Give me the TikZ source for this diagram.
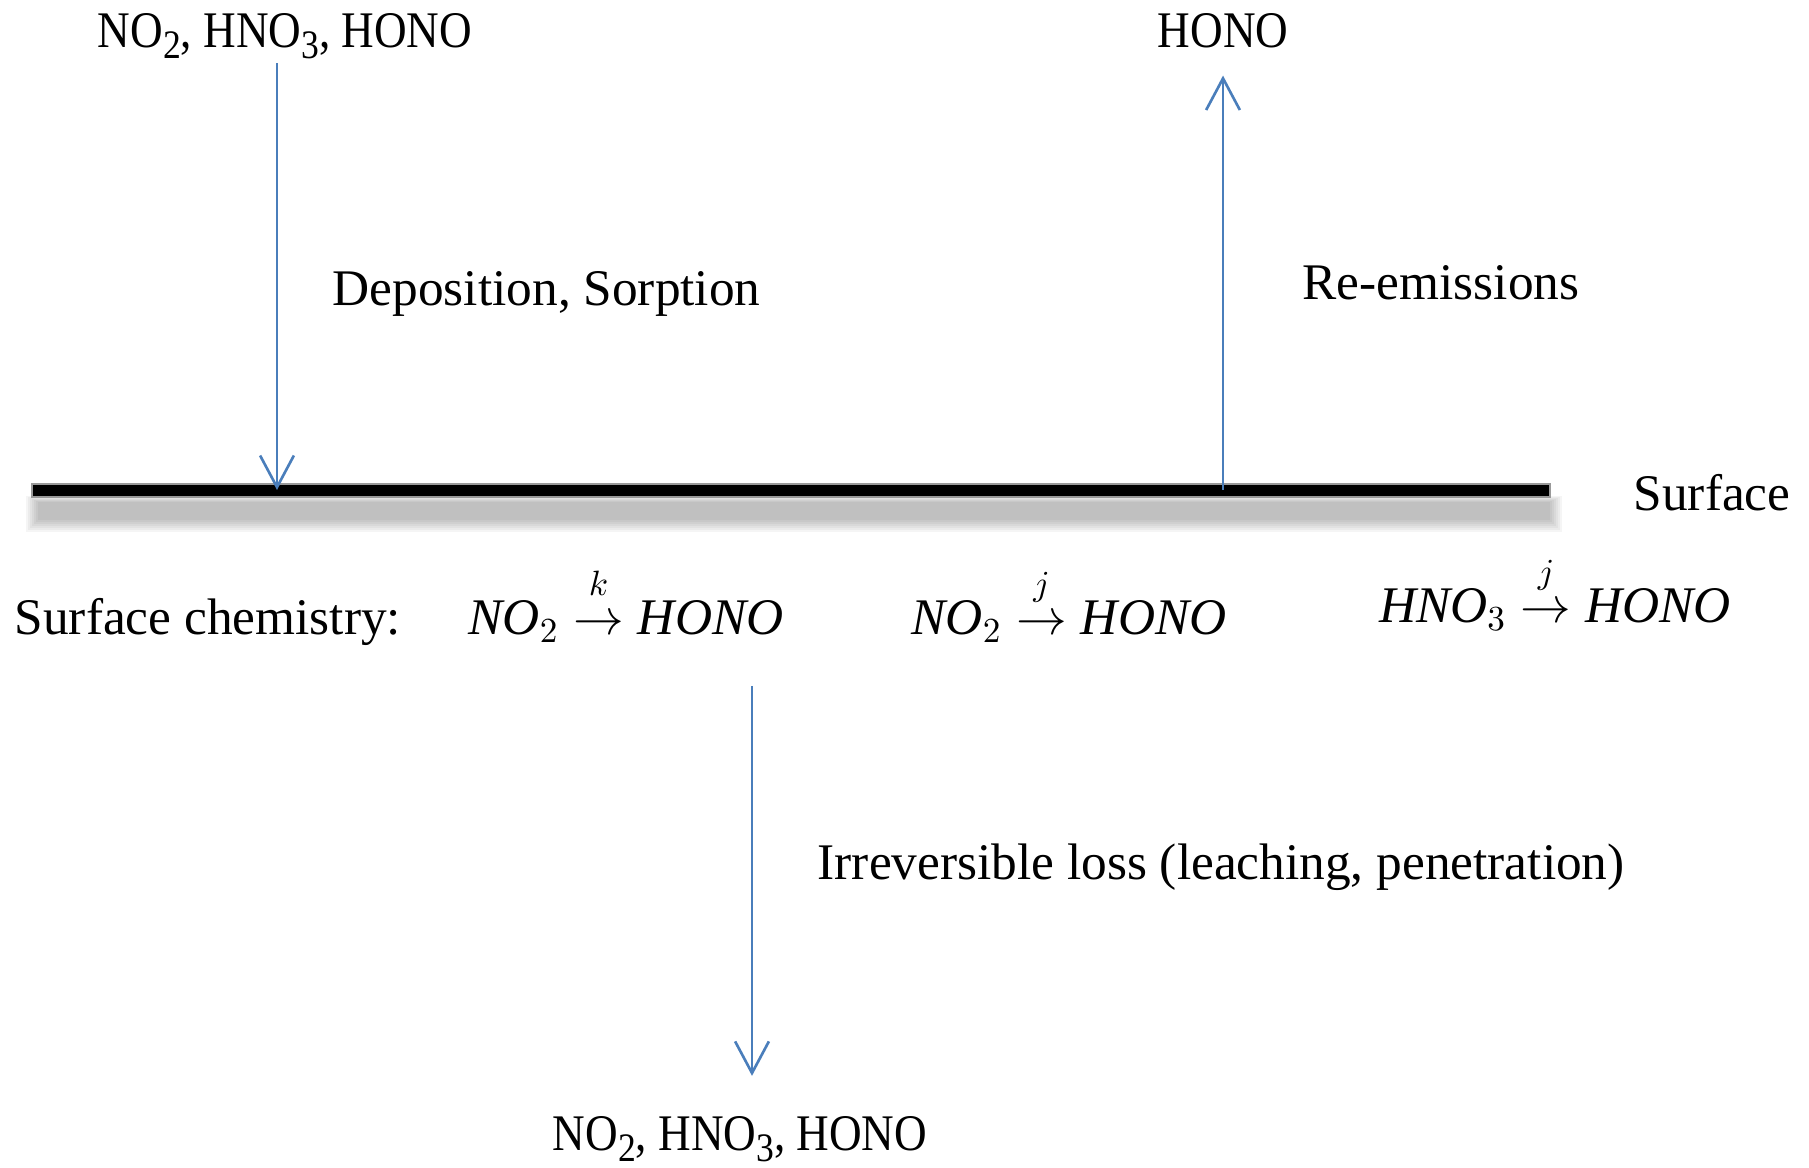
\documentclass[tikz,border=0pt]{standalone}
\usepackage{fontspec}
\setmainfont{Liberation Serif}
\newfontfamily\chemfont[FakeStretch=0.88]{Liberation Serif}
\usetikzlibrary{arrows.meta,positioning}
\definecolor{flowblue}{RGB}{74,126,187}
\newcommand\chemsub[1]{\raisebox{-0.45ex}{\fontsize{11.5}{12}\selectfont #1}}
\newcommand\rateto[1]{\stackrel{\raisebox{0.6ex}{$\scriptstyle #1$}}{\rightarrow}}

\begin{document}
\begin{tikzpicture}[x=0.01cm,y=-0.01cm,
        font=\fontsize{14.6}{17}\selectfont,
        flow/.style={draw=flowblue,line width=0.75pt,-{Straight Barb[length=9pt,width=9.6pt]}},
        txt/.style={inner sep=0pt},
        gas/.style={inner sep=0pt,font=\fontsize{14.6}{17}\chemfont}]
    \useasboundingbox (0,0) rectangle (1809,1168);
    % the surface with its shadow
    \foreach \d in {0,2,...,12}
        \fill[black,opacity=0.04] (26+\d,496+\d/2) rectangle (1562-\d,532-\d);
    \filldraw[black,draw=black!40] (32,484) rectangle (1550,497);
    \node[txt,anchor=base west] (surf) at (1633,511) {Surface};
    % fluxes above the surface
    \coordinate (dep) at (277,490);
    \coordinate (emit) at (1223,490);
    \node[gas,anchor=base] (gasin) at (285,48) {NO\chemsub{2}, HNO\chemsub{3}, HONO};
    \node[gas,anchor=base] (gasout) at (1223,48) {HONO};
    \draw[flow,shorten <=1pt] (gasin.south -| dep) -- (dep);
    \draw[flow,shorten >=7.5pt] (emit) -- (gasout.south -| emit);
    \node[txt,anchor=base west] (deplab) at (332,306) {Deposition, Sorption};
    \node[txt,anchor=base west] (emitlab) at (1302,300) {Re-emissions};
    % chemistry on the surface
    \node[txt,anchor=base west] (chem) at (14,635) {Surface chemistry:};
    \node[txt,anchor=base] (chemk) at (626,635) {$\mathit{NO}_2 \rateto{k} \mathit{HONO}$};
    \node[txt,anchor=base] (chemj) at (1069,635) {$\mathit{NO}_2 \rateto{j} \mathit{HONO}$};
    \node[txt,anchor=base] (chemh) at (1555,623) {$\mathit{HNO}_3 \rateto{j} \mathit{HONO}$};
    % loss below the surface
    \coordinate (loss) at (752,686);
    \node[gas,anchor=base] (gasdown) at (740,1151) {NO\chemsub{2}, HNO\chemsub{3}, HONO};
    \draw[flow,shorten >=11.5pt] (loss) -- (gasdown.north -| loss);
    \node[txt,anchor=base west] (losslab) at (817,880) {Irreversible loss (leaching, penetration)};
\end{tikzpicture}
\end{document}
